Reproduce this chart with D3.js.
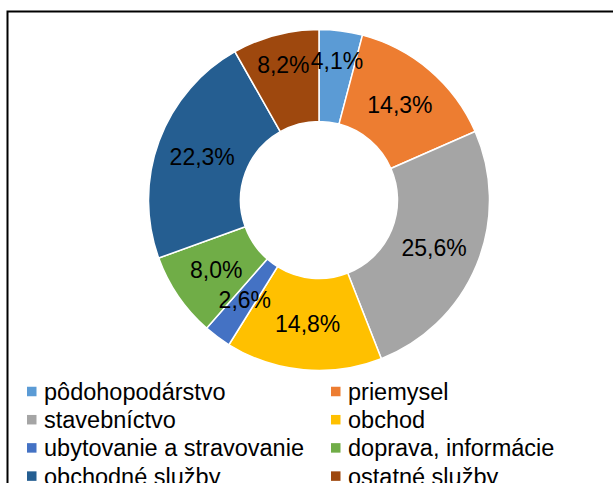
<!DOCTYPE html>
<html>
<head>
<meta charset="utf-8">
<script src="https://cdn.jsdelivr.net/npm/d3@7"></script>
<style>
  html, body { margin: 0; padding: 0; background: #fff; }
  svg { display: block; }
  text { font-family: "Liberation Sans", Arial, sans-serif; fill: #000; }
</style>
</head>
<body>
<svg id="chart" width="613" height="483"></svg>
<script>
const categories = ["pôdohopodárstvo", "priemysel", "stavebníctvo", "obchod",
  "ubytovanie a stravovanie", "doprava, informácie", "obchodné služby", "ostatné služby"];
const values = [4.1, 14.3, 25.6, 14.8, 2.6, 8.0, 22.3, 8.2];
const labels = ["4,1%", "14,3%", "25,6%", "14,8%", "2,6%", "8,0%", "22,3%", "8,2%"];
const colors = ["#5B9BD5", "#ED7D31", "#A5A5A5", "#FFC000", "#4472C4", "#70AD47", "#255E91", "#9E480E"];

const svg = d3.select("#chart");

// frame
svg.append("rect").attr("x", 7.5).attr("y", 11.5).attr("width", 700).attr("height", 600)
  .attr("fill", "none").attr("stroke", "#000").attr("stroke-width", 2);

const cx = 319, cy = 200, outerR = 170.5, innerR = 78.5;
const g = svg.append("g").attr("transform", `translate(${cx},${cy})`);

const data = categories.map((c, i) => ({ cat: c, value: values[i], label: labels[i], color: colors[i] }));
const pie = d3.pie().value(d => d.value).sort(null);
const arcs = pie(data);
const arc = d3.arc().innerRadius(innerR).outerRadius(outerR);

g.selectAll("path.slice").data(arcs).join("path")
  .attr("class", "slice")
  .attr("d", arc)
  .attr("fill", d => d.data.color)
  .attr("stroke", "#fff").attr("stroke-width", 1.5).attr("stroke-linejoin", "miter");

// labels at ring centroid; push overlapping neighbours outward
const fontSize = 23;
const midR = (innerR + outerR) / 2;
const lab = arcs.map(a => {
  const ang = (a.startAngle + a.endAngle) / 2;
  return { a, ang, r: midR, w: a.data.label.length * fontSize * 0.567 };
});
function pos(l) { return [Math.sin(l.ang) * l.r, -Math.cos(l.ang) * l.r]; }
function overlap(l1, l2) {
  const [x1, y1] = pos(l1), [x2, y2] = pos(l2);
  return Math.abs(x1 - x2) < (l1.w + l2.w) / 2 + 4 && Math.abs(y1 - y2) < fontSize * 0.8;
}
const pushed = lab.map(() => false);
for (let i = 0; i < lab.length; i++) {
  const j = (i + 1) % lab.length;
  if (overlap(lab[i], lab[j])) { pushed[i] = true; pushed[j] = true; }
}
lab.forEach((l, i) => { if (pushed[i]) l.r = outerR * 0.82; });

g.selectAll("text.lbl").data(lab).join("text")
  .attr("class", "lbl")
  .attr("x", d => pos(d)[0])
  .attr("y", d => pos(d)[1] + fontSize * 0.35)
  .attr("text-anchor", "middle")
  .attr("font-size", fontSize)
  .text(d => d.a.data.label);

// legend (2 columns, row-major)
const legFont = 23.5;
const colX = [27, 331];
const rowY0 = 391.5, rowStep = 28.2, sq = 9.5;
const leg = svg.append("g");
data.forEach((d, i) => {
  const col = i % 2, row = Math.floor(i / 2);
  const x = colX[col], y = rowY0 + row * rowStep;
  leg.append("rect").attr("x", x).attr("y", y - sq / 2).attr("width", sq).attr("height", sq).attr("fill", d.color);
  leg.append("text").attr("x", x + 17).attr("y", y + 8.5).attr("font-size", legFont).text(d.cat);
});
</script>
</body>
</html>
